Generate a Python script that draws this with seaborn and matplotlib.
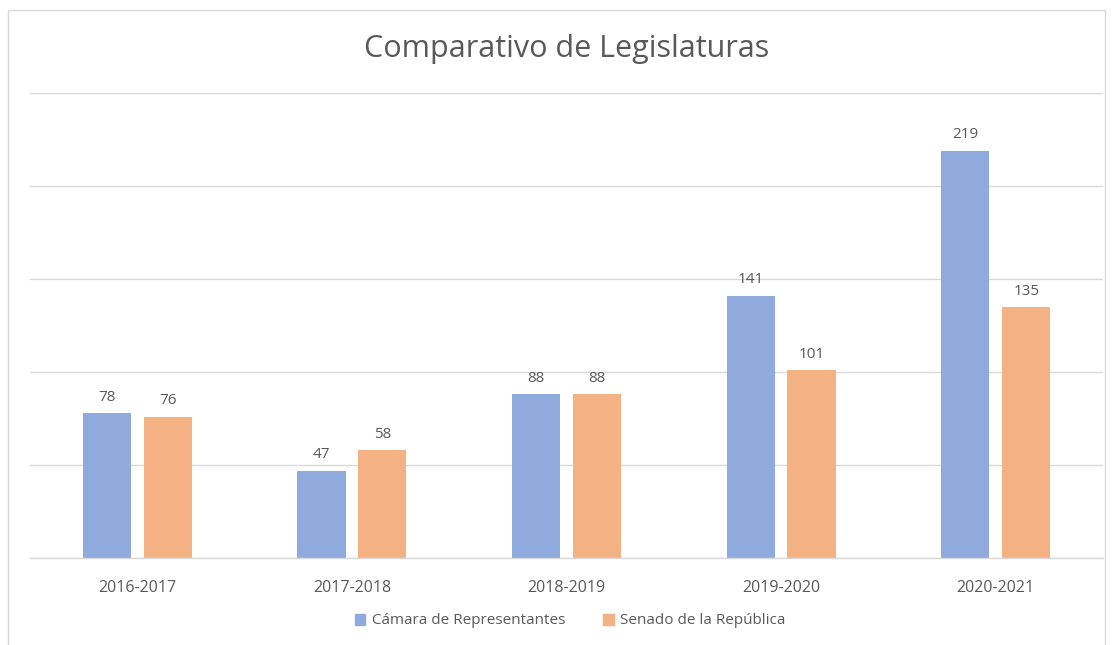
import matplotlib
matplotlib.use("Agg")
import matplotlib.pyplot as plt
import seaborn as sns
import pandas as pd
from matplotlib.patches import Rectangle

categories = ["2016-2017", "2017-2018", "2018-2019", "2019-2020", "2020-2021"]
camara = [78, 47, 88, 141, 219]
senado = [76, 58, 88, 101, 135]
series_names = ["Cámara de Representantes", "Senado de la República"]
colors = ["#8FAADC", "#F4B183"]
text_color = "#595959"
grid_color = "#D9D9D9"

df = pd.DataFrame({
    "Legislatura": categories * 2,
    "Valor": camara + senado,
    "Serie": [series_names[0]] * len(categories) + [series_names[1]] * len(categories),
})

sns.set_theme(style="white")
plt.rcParams["font.family"] = ["Open Sans", "DejaVu Sans"]

fig = plt.figure(figsize=(11.15, 6.45), dpi=100)
ax = fig.add_axes([30 / 1115, 1 - 558 / 645, (1103 - 30) / 1115, (558 - 93) / 645])

sns.barplot(data=df, x="Legislatura", y="Valor", hue="Serie", palette=colors,
            width=0.568, gap=0.21, ax=ax, saturation=1, legend=False, linewidth=0)

for c in ax.containers:
    ax.bar_label(c, padding=6, fontsize=11, color=text_color)

ax.set_ylim(0, 250)
ax.set_xlim(-0.5, len(categories) - 0.5)
ax.set_yticks([0, 50, 100, 150, 200, 250])
ax.yaxis.grid(True, color=grid_color, linewidth=1)
ax.set_axisbelow(True)
ax.tick_params(axis="y", left=False, labelleft=False)
ax.tick_params(axis="x", bottom=False, pad=10, labelsize=11.5, labelcolor=text_color)
ax.set_xlabel("")
ax.set_ylabel("")
for s in ["top", "left", "right"]:
    ax.spines[s].set_visible(False)
ax.spines["bottom"].set_color(grid_color)
ax.spines["bottom"].set_linewidth(1)

fig.text(567 / 1115, 1 - 49 / 645, "Comparativo de Legislaturas", ha="center", va="center",
         fontsize=22, color=text_color)

handles = [Rectangle((0, 0), 1, 1, color=col) for col in colors]
fig.legend(handles, series_names, loc="center", bbox_to_anchor=(570 / 1115, 1 - 621 / 645),
           ncol=2, frameon=False, fontsize=11, labelcolor=text_color,
           handlelength=0.7, handleheight=0.7, handletextpad=0.4, columnspacing=2.5)

fig.patches.append(Rectangle((8 / 1115, -0.1), (1105 - 8) / 1115, 1.1 - 10 / 645,
                             transform=fig.transFigure, fill=False,
                             edgecolor=grid_color, linewidth=1))

fig.savefig("out.png", dpi=100, facecolor="white")
